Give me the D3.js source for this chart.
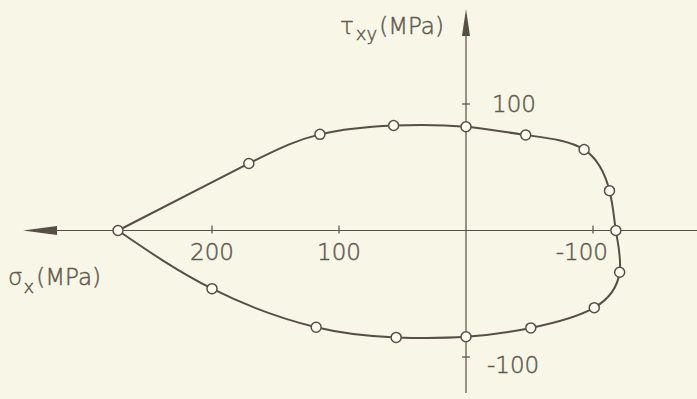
<!DOCTYPE html>
<html>
<head>
<meta charset="utf-8">
<script src="https://cdn.jsdelivr.net/npm/d3@7"></script>
<style>
  html, body { margin: 0; padding: 0; background: #f8f6e6; }
  svg { display: block; }
  text { font-family: "DejaVu Sans", sans-serif; font-weight: 200; fill: #5f594f; stroke: #5f594f; stroke-width: 0.45; }
</style>
</head>
<body>
<svg id="chart" width="697" height="399"></svg>
<script>
// Yield locus measured in the σx–τxy plane (MPa), traced counter-clockwise
const sigmaX = [274, 171, 115, 57, 0, -47, -93, -113, -118, -121, -101, -51, 0, 55, 118, 200];
const tauXY  = [0, 53, 76, 83, 82, 75.5, 64, 31.5, 0, -33, -61, -77, -84, -84.5, -76.5, -46];
const xTicks = [200, 100, -100];
const yTicks = [100, -100];

const W = 697, H = 399;
const ink = "#574f46";
const svg = d3.select("#chart");

// σx increases to the left
const x = d3.scaleLinear().domain([300, -100]).range([85, 593]);
const y = d3.scaleLinear().domain([100, -100]).range([104, 357]);
const x0 = x(0), y0 = y(0);

// axes
svg.append("line").attr("x1", 50).attr("x2", W).attr("y1", y0).attr("y2", y0)
  .attr("stroke", ink).attr("stroke-width", 1.2);
svg.append("line").attr("x1", x0).attr("x2", x0).attr("y1", 30).attr("y2", 393)
  .attr("stroke", ink).attr("stroke-width", 1.2);

// arrowheads
svg.append("path")
  .attr("d", `M${23},${y0} L${57},${y0 - 4.5} L${57},${y0 + 4.5} Z`)
  .attr("fill", ink);
svg.append("path")
  .attr("d", `M${x0},${9} L${x0 - 4},${36} L${x0 + 4},${36} Z`)
  .attr("fill", ink);

// ticks
svg.selectAll(".xt").data(xTicks).join("line")
  .attr("x1", d => x(d)).attr("x2", d => x(d))
  .attr("y1", y0 - 5).attr("y2", y0 + 3)
  .attr("stroke", ink).attr("stroke-width", 1.2);
svg.selectAll(".yt").data(yTicks).join("line")
  .attr("x1", x0 - 4).attr("x2", x0 + 4)
  .attr("y1", d => y(d)).attr("y2", d => y(d))
  .attr("stroke", ink).attr("stroke-width", 1.2);

const fmt = d => String(d);

// tick labels
svg.selectAll(".xl").data(xTicks).join("text")
  .attr("x", d => d < 0 ? x(d) + 15 : x(d))
  .attr("y", y0 + 29)
  .attr("text-anchor", d => d < 0 ? "end" : "middle")
  .attr("font-size", 23)
  .text(fmt);
svg.selectAll(".yl").data(yTicks).join("text")
  .attr("x", d => d < 0 ? x0 + 21 : x0 + 26)
  .attr("y", d => d < 0 ? y(d) + 16 : y(d) + 8)
  .attr("font-size", 23)
  .text(fmt);

// axis titles
const tx = svg.append("text").attr("x", 8).attr("y", 285).attr("font-size", 23);
tx.append("tspan").text("σ");
tx.append("tspan").attr("font-size", 18).attr("dy", 8).attr("dx", 1).text("x");
tx.append("tspan").attr("dy", -8).attr("dx", 2).text("(MPa)");

const ty = svg.append("text").attr("x", 340).attr("y", 34).attr("font-size", 23);
ty.append("tspan").text("τ");
ty.append("tspan").attr("font-size", 18).attr("dy", 6).attr("dx", 2).text("xy");
ty.append("tspan").attr("dy", -6).attr("dx", 2).text("(MPa)");

// locus curve, closed back to the first point with a cusp there
const pts = sigmaX.map((s, i) => [x(s), y(tauXY[i])]);
const loop = pts.concat([pts[0]]);
svg.append("path")
  .attr("d", d3.line().curve(d3.curveNatural)(loop))
  .attr("fill", "none").attr("stroke", ink).attr("stroke-width", 2);

// measured points
svg.selectAll(".pt").data(pts).join("circle")
  .attr("cx", d => d[0]).attr("cy", d => d[1]).attr("r", 5)
  .attr("fill", "#fdfcf2").attr("stroke", ink).attr("stroke-width", 1.5);
</script>
</body>
</html>
